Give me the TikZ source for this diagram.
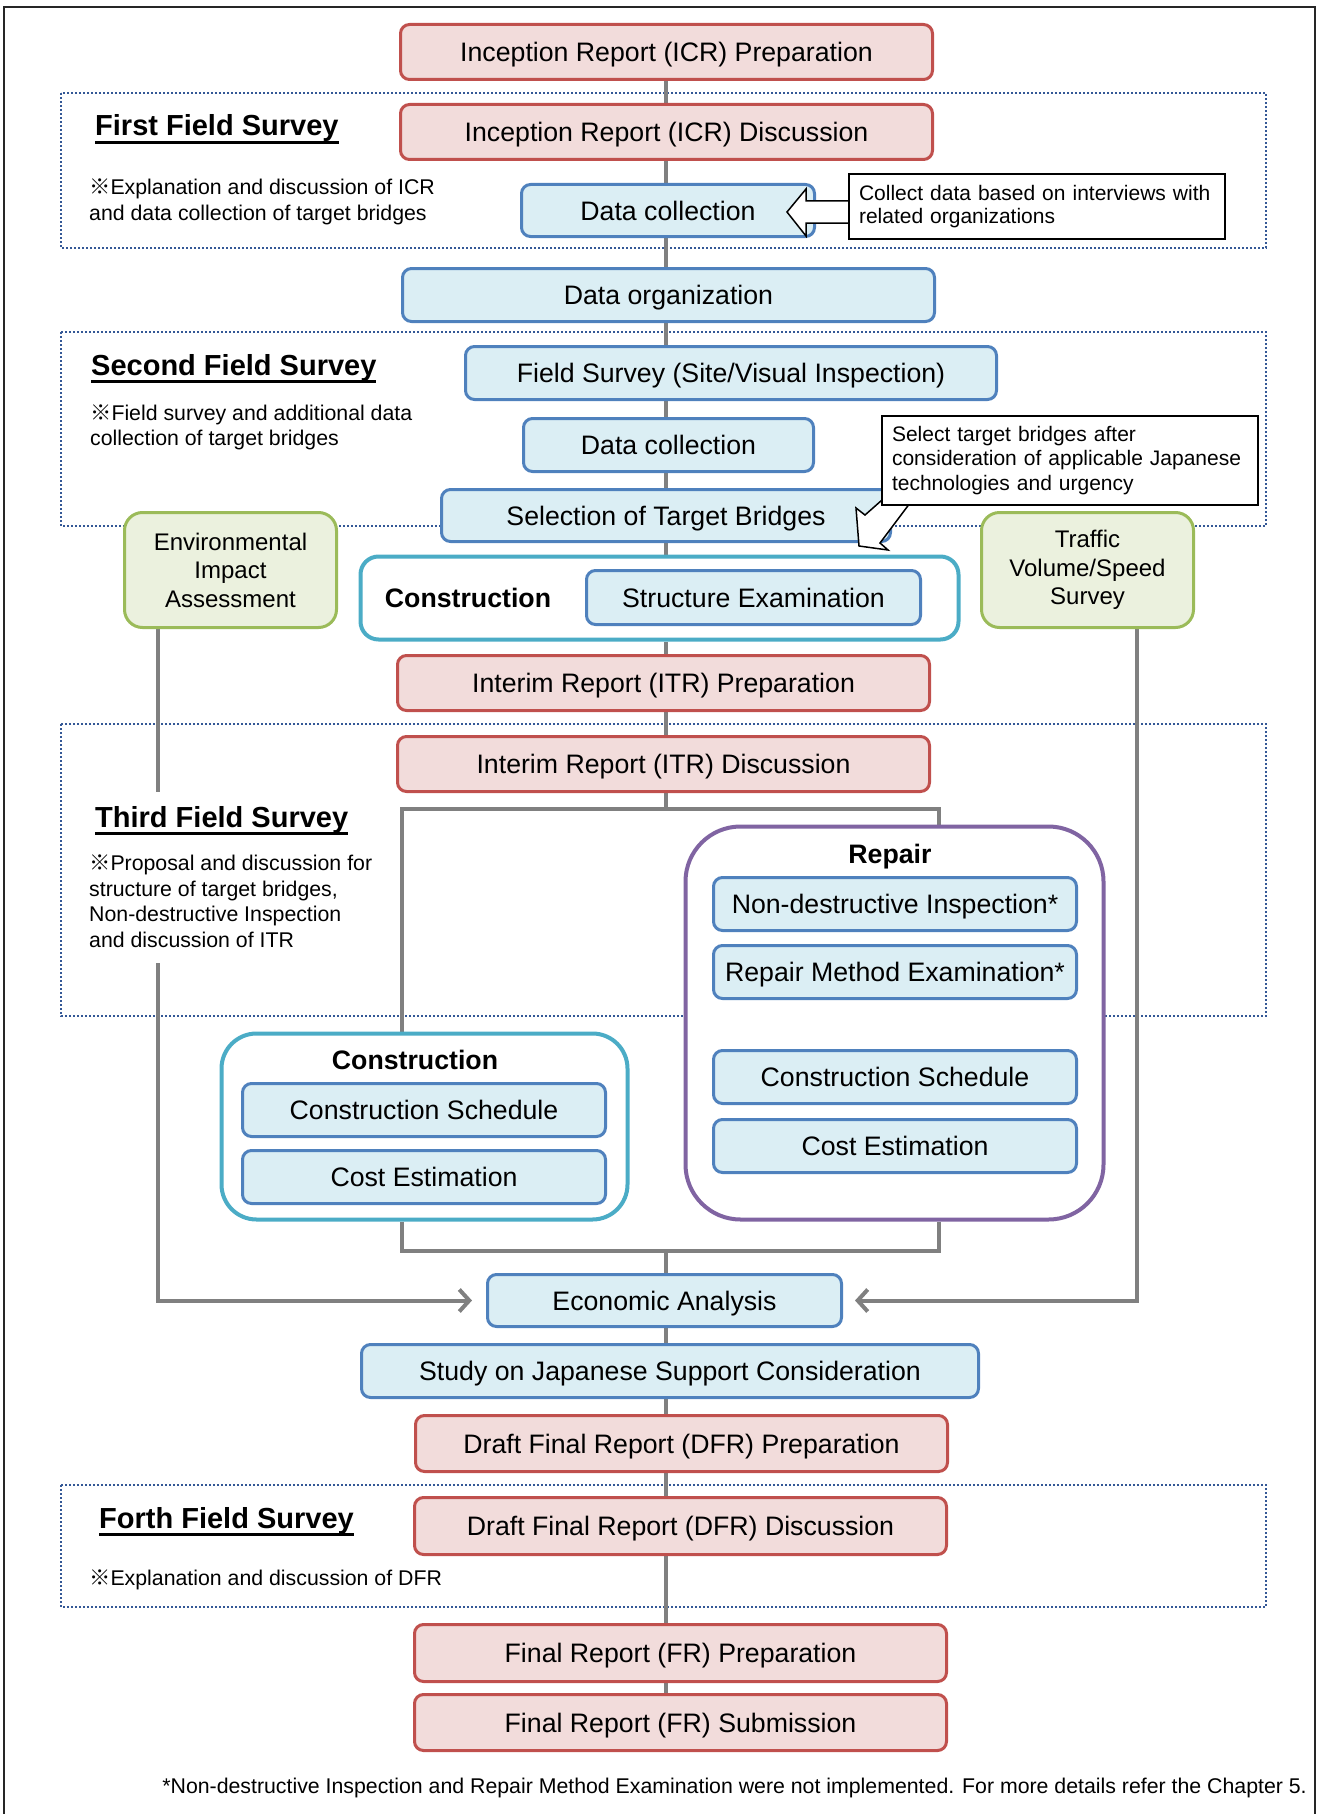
\documentclass[tikz,border=0pt]{standalone}
\usepackage{fontspec}
\setmainfont{Liberation Sans}
\newfontfamily\cjkf{Noto Sans CJK JP}
\usetikzlibrary{arrows.meta}
\pgfdeclarelayer{frames}
\pgfdeclarelayer{lines}
\pgfsetlayers{frames,lines,main}
\definecolor{redF}{HTML}{F2DCDB}
\definecolor{redD}{HTML}{C0504D}
\definecolor{blueF}{HTML}{DBEEF4}
\definecolor{blueD}{HTML}{4F81BD}
\definecolor{greenF}{HTML}{EBF1DE}
\definecolor{greenD}{HTML}{9BBB59}
\definecolor{tealD}{HTML}{4BACC6}
\definecolor{purpD}{HTML}{8064A2}
\definecolor{frameD}{RGB}{52,88,150}
\definecolor{lineG}{RGB}{128,128,128}
\newcommand\refm{{\cjkf ※}}
\newcommand\ulttl[1]{\setbox0\hbox{#1}\rlap{\rule[-8pt]{\wd0}{3pt}}\box0}
\begin{document}
\begin{tikzpicture}[x=1pt,y=-1pt,
  box/.style={rounded corners=9pt, line width=3pt, minimum width=532pt, minimum height=55pt, inner sep=0pt, text height=19.5pt, text depth=0pt, font=\fontsize{26.7}{30}\selectfont},
  redbox/.style={box, draw=redD, fill=redF},
  bluebox/.style={box, draw=blueD, fill=blueF},
  greenbox/.style={rounded corners=18pt, line width=3pt, draw=greenD, fill=greenF, minimum width=212pt, minimum height=115pt, inner sep=0pt, align=center, font=\fontsize{24}{28.5}\selectfont},
  groupbox/.style={line width=4pt, fill=white, inner sep=0pt},
  boldlbl/.style={inner sep=0pt, font=\bfseries\fontsize{26.7}{30}\selectfont},
  notebox/.style={draw=black, line width=1.5pt, fill=white, inner sep=10pt, text width=356pt, align=left, font=\fontsize{21}{23.5}\selectfont},
  blockarrow/.style={draw=black, line width=1.5pt, fill=white, line join=miter},
  spine/.style={draw=lineG, line width=4pt},
  survey/.style={draw=frameD, line width=2pt, dotted},
  ttl/.style={inner sep=0pt, anchor=base west, font=\bfseries\fontsize{29}{34}\selectfont},
  note/.style={inner sep=0pt, anchor=west, align=left, font=\fontsize{21.3}{25.5}\selectfont}
]
\useasboundingbox (0,0) rectangle (1319,1814);
\draw[line width=1.5pt, black!85] (4,1814) -- (4,7) -- (1315,7) -- (1315,1814);

% main flow
\node[redbox] (icrp) at (666.5,52) {Inception Report (ICR) Preparation};
\node[redbox] (icrd) at (666.5,132) {Inception Report (ICR) Discussion};
\node[bluebox, minimum width=293pt, minimum height=52pt] (dc1) at (668,210.5) {Data collection};
\draw[blockarrow] (849,201) -- (806,201) -- (806,189) -- (787,212) -- (806,236) -- (806,223) -- (849,223);
\node[notebox, minimum height=65pt] (co1) at (1037,206.5) {Collect data based on interviews with\\related organizations};
\node[bluebox, minimum height=53pt] (dorg) at (668.5,295) {Data organization};
\node[bluebox, minimum width=531pt, minimum height=53pt] (fsv) at (731,373) {Field Survey (Site/Visual Inspection)};
\node[bluebox, minimum width=290pt, minimum height=53pt] (dc2) at (668.5,445) {Data collection};
\node[bluebox, minimum width=449pt, minimum height=52pt] (sel) at (666,515.5) {Selection of Target Bridges};
\draw[blockarrow] (882,500) -- (865,515) -- (856,508) -- (859,546) -- (888,550) -- (880,543) -- (910,503);
\node[notebox, minimum height=87pt, font=\fontsize{21}{24.5}\selectfont] (co2) at (1070,460.5) {Select target bridges after\\consideration of applicable Japanese\\technologies and urgency};

\node[groupbox, draw=tealD, rounded corners=18pt, minimum width=598pt, minimum height=83pt] (cons1) at (659.5,598) {};
\node[boldlbl] (cons1t) at (468,598) {Construction};
\node[bluebox, minimum width=334pt, minimum height=54pt] (strex) at (753.5,597.5) {Structure Examination};

\node[greenbox] (env) at (230.5,570) {Environmental\\Impact\\Assessment};
\node[greenbox] (trf) at (1087.5,570) {Traffic\\Volume/Speed\\Survey};

\node[redbox] (itrp) at (663.5,683) {Interim Report (ITR) Preparation};
\node[redbox] (itrd) at (663.5,764) {Interim Report (ITR) Discussion};

% repair group
\node[groupbox, draw=purpD, rounded corners=55pt, minimum width=418pt, minimum height=393pt] (rep) at (894.5,1023) {};
\node[boldlbl] (rept) at (890,857) {Repair};
\node[bluebox, minimum width=363pt, minimum height=53pt] (ndi) at (895,904) {Non-destructive Inspection*};
\node[bluebox, minimum width=363pt, minimum height=53pt] (rme) at (895,972) {Repair Method Examination*};
\node[bluebox, minimum width=363pt, minimum height=53pt] (cs2) at (895,1077) {Construction Schedule};
\node[bluebox, minimum width=363pt, minimum height=53pt] (ce2) at (895,1146) {Cost Estimation};

% construction group
\node[groupbox, draw=tealD, rounded corners=35pt, minimum width=406pt, minimum height=186pt] (cons2) at (424.5,1126.5) {};
\node[boldlbl] (cons2t) at (415,1060) {Construction};
\node[bluebox, minimum width=363pt, minimum height=53pt] (cs1) at (424,1110) {Construction Schedule};
\node[bluebox, minimum width=363pt, minimum height=53pt] (ce1) at (424,1177) {Cost Estimation};

\node[bluebox, minimum width=354pt, minimum height=52pt] (ea) at (664.5,1300.5) {Economic Analysis};
\node[bluebox, minimum width=617pt, minimum height=53pt] (study) at (670,1371) {Study on Japanese Support Consideration};
\node[redbox, minimum height=56pt] (dfrp) at (681.5,1443.5) {Draft Final Report (DFR) Preparation};
\node[redbox, minimum height=57pt] (dfrd) at (680.5,1526) {Draft Final Report (DFR) Discussion};
\node[redbox, minimum height=57pt] (frp) at (680.5,1653) {Final Report (FR) Preparation};
\node[redbox, minimum height=56pt] (frs) at (680.5,1722.5) {Final Report (FR) Submission};

% survey titles and notes
\node[ttl] (t1) at (95,136) {\ulttl{First Field Survey}};
\node[note] (n1) at (89,202) {\refm Explanation and discussion of ICR\\and data collection of target bridges};
\node[ttl] (t2) at (91,375) {\ulttl{Second Field Survey}};
\node[note] (n2) at (90,427.5) {\refm Field survey and additional data\\collection of target bridges};
\node[ttl] (t3) at (95,827) {\ulttl{Third Field Survey}};
\node[note] (n3) at (89,901) {\refm Proposal and discussion for\\structure of target bridges,\\Non-destructive Inspection\\and discussion of ITR};
\node[ttl] (t4) at (99,1528) {\ulttl{Forth Field Survey}};
\node[note] (n4) at (89,1580) {\refm Explanation and discussion of DFR};

\node[anchor=east, inner sep=0pt, font=\fontsize{21.3}{24}\selectfont] (fn) at (1307,1788) {*Non-destructive Inspection and Repair Method Examination were not implemented. For more details refer the Chapter 5.};

% dotted survey frames
\begin{pgfonlayer}{frames}
\draw[survey] (61,93) rectangle (1266,248);
\draw[survey] (61,332) rectangle (1266,526);
\draw[survey] (61,724) rectangle (1266,1016);
\draw[survey] (61,1485) rectangle (1266,1607);
\end{pgfonlayer}

% connectors
\begin{pgfonlayer}{lines}
\coordinate (sp) at (666,0);
\foreach \a/\b in {icrp/icrd, icrd/dc1, dc1/dorg, dorg/fsv, fsv/dc2, dc2/sel, sel/cons1, cons1/itrp, itrp/itrd, ea/study, study/dfrp, dfrp/dfrd, dfrd/frp, frp/frs}
  \draw[spine] (sp |- \a.south) -- (sp |- \b.north);
\coordinate (brL) at (402,809);
\coordinate (brR) at (939,809);
\draw[spine] (sp |- itrd.south) -- (sp |- brL);
\draw[spine] (cons2.north -| brL) -- (brL) -- (brR) -- (rep.north -| brR);
\coordinate (bbL) at (402,1251);
\coordinate (bbR) at (939,1251);
\draw[spine] (cons2.south -| bbL) -- (bbL) -- (bbR) -- (rep.south -| bbR);
\draw[spine] (sp |- bbL) -- (sp |- ea.north);
\coordinate (g1) at (158,792);
\coordinate (g2) at (158,963);
\coordinate (tl) at (1137,0);
\draw[spine] (env.south -| g1) -- (g1);
\draw[spine, -{Straight Barb[length=10pt,width=22pt]}] (g2) -- (g2 |- ea.west) -- ([xshift=-14pt]ea.west);
\draw[spine, -{Straight Barb[length=10pt,width=22pt]}] (trf.south -| tl) -- (tl |- ea.east) -- ([xshift=12pt]ea.east);
\end{pgfonlayer}
\end{tikzpicture}
\end{document}
